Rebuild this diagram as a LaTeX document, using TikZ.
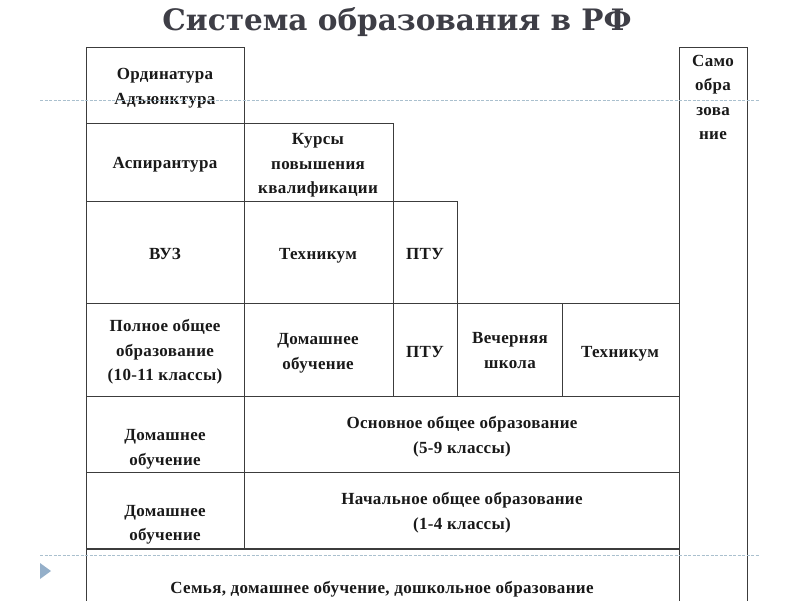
\documentclass[tikz,border=0pt]{standalone}
\usepackage{fontspec}
\setmainfont{Liberation Serif}
\newfontfamily\cellfont[LetterSpace=2]{Liberation Serif}
\newfontfamily\titlefont{DejaVu Serif}
\definecolor{linec}{RGB}{60,60,60}
\definecolor{textc}{RGB}{25,25,25}
\definecolor{titlec}{RGB}{62,62,70}
\definecolor{guidec}{RGB}{170,192,206}
\definecolor{arrowc}{RGB}{148,175,201}
\newcommand\cellbox[5]{\node[box, minimum width={(#4-#2)*1pt}, minimum height={(#5-#3)*1pt}] (#1) at ({(#2+#4)/2},{(#3+#5)/2}) {};}
\begin{document}
\begin{tikzpicture}[x=1pt,y=-1pt,
  box/.style={draw=linec, line width=0.9pt, inner sep=0pt, outer sep=0pt},
  txt/.style={font=\cellfont\bfseries\fontsize{17}{24.5}\selectfont, align=center, text=textc, inner sep=0pt},
  guide/.style={draw=guidec, dash pattern=on 3pt off 1.5pt, line width=0.8pt}]
\useasboundingbox (0,0) rectangle (800,600);
\clip (0,0) rectangle (800,600);
\node[font=\titlefont\bfseries\fontsize{29.5}{31}\selectfont, text=titlec] (title) at (397,22.5) {Система образования в РФ};
% cells
\cellbox{ord}{86}{47}{244}{123}
\cellbox{asp}{86}{123}{244}{201}
\cellbox{kurs}{244}{123}{393}{201}
\cellbox{vuz}{86}{201}{244}{303}
\cellbox{techa}{244}{201}{393}{303}
\cellbox{ptua}{393}{201}{457}{303}
\cellbox{pol}{86}{303}{244}{396}
\cellbox{doma}{244}{303}{393}{396}
\cellbox{ptub}{393}{303}{457}{396}
\cellbox{vech}{457}{303}{562}{396}
\cellbox{techb}{562}{303}{679}{396}
\cellbox{domb}{86}{396}{244}{472}
\cellbox{osn}{244}{396}{679}{472}
\cellbox{domc}{86}{472}{244}{549}
\cellbox{nach}{244}{472}{679}{549}
\cellbox{sem}{86}{549}{679}{612}
\cellbox{samo}{679}{47}{747}{612}
\draw[draw=linec, line width=1.6pt] (sem.north west) -- (sem.north east);
% texts
\node[txt] (t-ord) at (165,88) {Ординатура\\Адъюнктура};
\node[txt] (t-asp) at (165,165) {Аспирантура};
\node[txt] (t-kurs) at (318,165.5) {Курсы\\повышения\\квалификации};
\node[txt] (t-vuz) at (165,254) {ВУЗ};
\node[txt] (t-techa) at (318,256) {Техникум};
\node[txt] (t-ptua) at (425,254) {ПТУ};
\node[txt] (t-pol) at (165,352) {Полное общее\\образование\\(10-11 классы)};
\node[txt] (t-doma) at (318,353.5) {Домашнее\\обучение};
\node[txt] (t-ptub) at (425,352) {ПТУ};
\node[txt] (t-vech) at (510,350.5) {Вечерняя\\школа};
\node[txt] (t-techb) at (620,354) {Техникум};
\node[txt] (t-domb) at (165,449.5) {Домашнее\\обучение};
\node[txt] (t-osn) at (462,436.5) {Основное общее образование\\(5-9 классы)};
\node[txt] (t-domc) at (165,525) {Домашнее\\обучение};
\node[txt] (t-nach) at (462,512.5) {Начальное общее образование\\(1-4 классы)};
\node[txt] (t-sem) at (382,589) {Семья, домашнее обучение, дошкольное образование};
\node[txt] (t-samo) at (713,97.5) {Само\\обра\\зова\\ние};
% guides
\coordinate (ga) at (40,100); \coordinate (gb) at (760,100);
\coordinate (gc) at (40,555); \coordinate (gd) at (760,555);
\draw[guide] (ga) -- (gb);
\draw[guide] (gc) -- (gd);
\fill[arrowc] (40,563) -- (51,571) -- (40,579) -- cycle;
\end{tikzpicture}
\end{document}
